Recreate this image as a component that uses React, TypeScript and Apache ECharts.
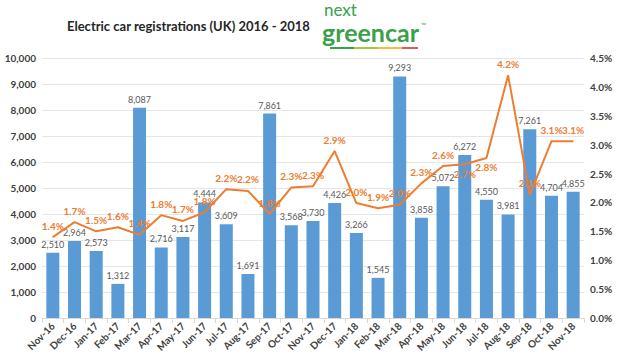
import React, { useEffect, useRef } from "react";
import * as echarts from "echarts";

const categories = [
  "Nov-16", "Dec-16", "Jan-17", "Feb-17", "Mar-17", "Apr-17", "May-17", "Jun-17",
  "Jul-17", "Aug-17", "Sep-17", "Oct-17", "Nov-17", "Dec-17", "Jan-18", "Feb-18",
  "Mar-18", "Apr-18", "May-18", "Jun-18", "Jul-18", "Aug-18", "Sep-18", "Oct-18", "Nov-18",
];
const registrations = [
  2510, 2964, 2573, 1312, 8087, 2716, 3117, 4444, 3609, 1691, 7861, 3568, 3730,
  4426, 3266, 1545, 9293, 3858, 5072, 6272, 4550, 3981, 7261, 4704, 4855,
];
const marketShare = [
  1.4, 1.66, 1.5, 1.57, 1.44, 1.78, 1.68, 1.83, 2.23, 2.2, 1.8, 2.26, 2.28,
  2.89, 1.99, 1.9, 1.96, 2.33, 2.63, 2.66, 2.77, 4.2, 2.13, 3.06, 3.06,
];
const labelsBelow = ["Jun-18", "Jul-18"];

const FONT = "Lato";

export default function App() {
  const ref = useRef<HTMLDivElement>(null);
  useEffect(() => {
    const chart = echarts.init(ref.current!, null, { renderer: "svg" });
    const lineData = marketShare.map((v, i) =>
      labelsBelow.includes(categories[i])
        ? { value: v, label: { position: "bottom", distance: 4 } }
        : v
    );
    chart.setOption({
      animation: false,
      backgroundColor: "#ffffff",
      textStyle: { fontFamily: FONT },
      title: {
        text: "Electric car registrations (UK) 2016 - 2018",
        left: 62,
        top: 14,
        textStyle: { fontFamily: FONT, fontSize: 13, fontWeight: "bold", color: "#262626" },
      },
      graphic: [
        { type: "text", left: 324, top: 1, style: { text: "next", fontFamily: FONT, fontSize: 17, fill: "#3aa04a" } },
        { type: "text", left: 322, top: 19, style: { text: "greencar", fontFamily: FONT, fontSize: 25, fontWeight: "bold", fill: "#3aa04a" } },
        { type: "text", left: 421, top: 21, style: { text: "™", fontFamily: FONT, fontSize: 7, fill: "#3aa04a" } },
        { type: "rect", shape: { x: 330, y: 47, width: 24, height: 2 }, style: { fill: "#3aa04a" } },
        { type: "rect", shape: { x: 354, y: 47, width: 24, height: 2 }, style: { fill: "#a8c83a" } },
        { type: "rect", shape: { x: 378, y: 47, width: 24, height: 2 }, style: { fill: "#f0c040" } },
        { type: "rect", shape: { x: 402, y: 47, width: 16, height: 2 }, style: { fill: "#e05a5a" } },
      ],
      grid: { left: 42, right: 46, top: 58, bottom: 42, containLabel: false },
      xAxis: {
        type: "category",
        data: categories,
        axisLine: { lineStyle: { color: "#d9d9d9" } },
        axisTick: { show: true, lineStyle: { color: "#d9d9d9" } },
        axisLabel: { rotate: 45, fontSize: 10, fontWeight: "bold", color: "#404040", fontFamily: FONT, margin: 6 },
      },
      yAxis: [
        {
          type: "value",
          min: 0,
          max: 10000,
          interval: 1000,
          axisLine: { show: false },
          axisTick: { show: false },
          splitLine: { lineStyle: { color: "#e6e6e6" } },
          axisLabel: {
            fontSize: 10,
            fontWeight: "bold",
            color: "#404040",
            fontFamily: FONT,
            margin: 6,
            formatter: (v: number) => v.toLocaleString("en-US"),
          },
        },
        {
          type: "value",
          min: 0,
          max: 4.5,
          interval: 0.5,
          axisLine: { show: false },
          axisTick: { show: false },
          splitLine: { show: false },
          axisLabel: {
            fontSize: 10,
            fontWeight: "bold",
            color: "#404040",
            fontFamily: FONT,
            margin: 6,
            formatter: (v: number) => v.toFixed(1) + "%",
          },
        },
      ],
      series: [
        {
          type: "bar",
          data: registrations,
          barWidth: "60%",
          itemStyle: { color: "#5b9bd5" },
          label: {
            show: true,
            position: "top",
            fontSize: 9,
            color: "#595959",
            fontFamily: FONT,
            distance: 4,
            formatter: (p: any) => Number(p.value).toLocaleString("en-US"),
          },
        },
        {
          type: "line",
          yAxisIndex: 1,
          data: lineData,
          symbol: "circle",
          symbolSize: 1,
          showSymbol: true,
          lineStyle: { color: "#ed7d31", width: 2 },
          itemStyle: { color: "#ed7d31" },
          label: {
            show: true,
            position: "top",
            fontSize: 10,
            fontWeight: "bold",
            color: "#ed7d31",
            fontFamily: FONT,
            distance: 6,
            formatter: (p: any) => Number(p.value).toFixed(1) + "%",
          },
          labelLayout: { hideOverlap: false },
        },
      ],
    });
    return () => chart.dispose();
  }, []);
  return <div ref={ref} style={{ width: 630, height: 360, position: "absolute", left: 0, top: 0 }} />;
}
